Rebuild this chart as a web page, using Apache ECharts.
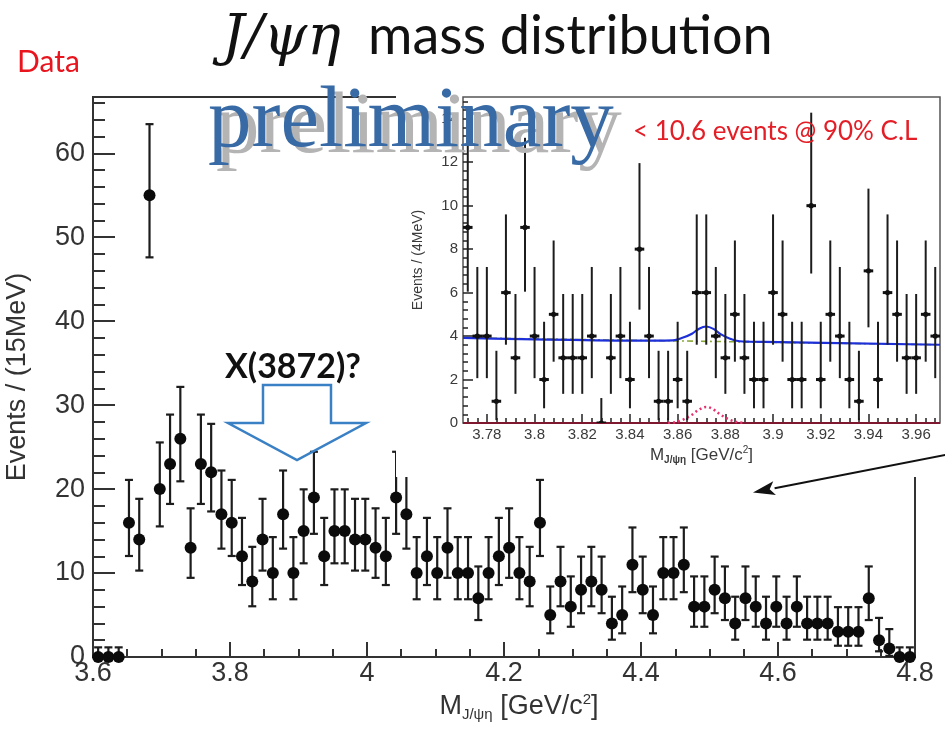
<!DOCTYPE html>
<html>
<head>
<meta charset="utf-8">
<script src="https://cdn.jsdelivr.net/npm/echarts@6/dist/echarts.min.js"></script>
<style>
  html, body { margin: 0; padding: 0; background: #fff; }
  #chart { width: 945px; height: 729px; }
</style>
</head>
<body>
<div id="chart"></div>
<script>
// ---- Full spectrum: J/psi eta invariant mass, 15 MeV bins from 3.6 to 4.8 GeV/c^2 ----
const mainMassMin = 3.6;
const mainBinWidth = 0.015;
const mainCounts = [
  0, 0, 0, 16, 14, 55, 20, 23, 26, 13,
  23, 22, 17, 16, 12, 9, 14, 10, 17, 10,
  15, 19, 12, 15, 15, 14, 14, 13, 12, 19,
  17, 10, 12, 10, 13, 10, 10, 7, 10, 12,
  13, 10, 9, 16, 5, 9, 6, 8, 9, 8,
  4, 5, 11, 8, 5, 10, 10, 11, 6, 6,
  8, 7, 4, 7, 6, 4, 6, 4, 6, 4,
  4, 4, 3, 3, 3, 7, 2, 1, 0, 0
];
const mainYLabels = [0, 10, 20, 30, 40, 50, 60];
const mainYMinorTicks = [0, 2, 4, 6, 8, 10, 12, 14, 16, 18, 20, 22, 24, 26, 28, 30, 32, 34,
  36, 38, 40, 42, 44, 46, 48, 50, 52, 54, 56, 58, 60, 62, 64, 66];

// ---- Zoom around X(3872): 4 MeV bins from 3.77 to 3.97 GeV/c^2 ----
const insetMassMin = 3.77;
const insetBinWidth = 0.004;
const insetCounts = [
  9, 4, 4, 1, 6, 3, 9, 4, 2, 5,
  3, 3, 3, 4, 0, 3, 4, 2, 8, 4,
  1, 1, 2, 1, 6, 6, 4, 3, 5, 3,
  2, 2, 6, 5, 2, 2, 10, 2, 5, 4,
  2, 1, 7, 2, 6, 5, 3, 3, 5, 4
];
const insetXLabels = [3.78, 3.80, 3.82, 3.84, 3.86, 3.88, 3.90, 3.92, 3.94, 3.96];
const insetYLabels = [0, 2, 4, 6, 8, 10, 12, 14];

// fit projections in the zoom window
const fitTotalMass  = [3.770, 3.850, 3.858, 3.862, 3.866, 3.869, 3.872, 3.875, 3.878, 3.882, 3.886, 3.890, 3.970];
const fitTotalValue = [3.92, 3.79, 3.80, 3.92, 4.11, 4.34, 4.44, 4.33, 4.09, 3.88, 3.76, 3.74, 3.60];
const fitBkgMass  = [3.770, 3.970];
const fitBkgValue = [3.92, 3.60];
const fitSigMass  = [3.856, 3.859, 3.862, 3.866, 3.869, 3.872, 3.875, 3.878, 3.882, 3.885, 3.888];
const fitSigValue = [0.0, 0.04, 0.14, 0.38, 0.62, 0.74, 0.62, 0.38, 0.14, 0.04, 0.0];
const zeroLineMass  = [3.770, 3.970];
const zeroLineValue = [0, 0];

// Poisson (central 68%) interval for an observed count
function poissonInterval(n) {
  if (n === 0) return [0, 1.148];
  return [n - Math.sqrt(n - 0.25), n + 1 + Math.sqrt(n + 0.75)];
}

function tickSteps(start, stop, step) {
  const out = [];
  for (let k = 0; start + k * step <= stop + 1e-9; k++) out.push(+(start + k * step).toFixed(4));
  return out;
}

const mainPoints = mainCounts.map((n, i) => {
  const iv = poissonInterval(n);
  return [+(mainMassMin + (i + 0.5) * mainBinWidth).toFixed(5), n, iv[0], iv[1]];
});
const insetPoints = insetCounts.map((n, i) => {
  const iv = poissonInterval(n);
  return [+(insetMassMin + (i + 0.5) * insetBinWidth).toFixed(5), n, iv[0], iv[1]];
});

const SANS = '"Liberation Sans", Arial, Helvetica, sans-serif';
const AXC = '#333';

function renderMainPoint(params, api) {
  const x = api.value(0);
  const p = api.coord([x, api.value(1)]);
  const lo = api.coord([x, api.value(2)]);
  const hi = api.coord([x, api.value(3)]);
  const cap = 4;
  const st = { stroke: '#1c1c1c', lineWidth: 2.2 };
  return {
    type: 'group',
    children: [
      { type: 'line', shape: { x1: p[0], y1: lo[1], x2: p[0], y2: hi[1] }, style: st },
      { type: 'line', shape: { x1: p[0] - cap, y1: hi[1], x2: p[0] + cap, y2: hi[1] }, style: st },
      { type: 'line', shape: { x1: p[0] - cap, y1: lo[1], x2: p[0] + cap, y2: lo[1] }, style: st },
      { type: 'circle', shape: { cx: p[0], cy: p[1], r: 6 }, style: { fill: '#0b0b0b' } }
    ]
  };
}

function renderInsetPoint(params, api) {
  const x = api.value(0);
  const y = api.value(1);
  const p = api.coord([x, y]);
  const left = api.coord([x - insetBinWidth / 2, y]);
  const right = api.coord([x + insetBinWidth / 2, y]);
  const lo = api.coord([x, api.value(2)]);
  const hi = api.coord([x, api.value(3)]);
  const st = { stroke: '#1c1c1c', lineWidth: 2 };
  return {
    type: 'group',
    children: [
      { type: 'line', shape: { x1: p[0], y1: lo[1], x2: p[0], y2: hi[1] }, style: st },
      { type: 'line', shape: { x1: left[0], y1: p[1], x2: right[0], y2: p[1] }, style: { stroke: '#111', lineWidth: 3 } },
      { type: 'circle', shape: { cx: p[0], cy: p[1], r: 2.6 }, style: { fill: '#111' } }
    ]
  };
}

const chart = echarts.init(document.getElementById('chart'), null, { renderer: 'canvas' });

const option = {
  animation: false,
  backgroundColor: '#ffffff',
  grid: [
    { left: 93, top: 97, width: 822, height: 560, show: true, borderColor: '#333', borderWidth: 2,
      backgroundColor: 'rgba(0,0,0,0)', containLabel: false, outerBoundsMode: 'none', z: 0 },
    { left: 463, top: 97, width: 477, height: 326, show: true, borderColor: '#555', borderWidth: 1.5,
      backgroundColor: '#ffffff', containLabel: false, outerBoundsMode: 'none', z: 6 }
  ],
  xAxis: [
    {
      gridIndex: 0, type: 'value', position: 'bottom', min: 3.6, max: 4.8, interval: 0.2,
      axisLine: { show: true, onZero: false, lineStyle: { color: AXC, width: 2 } },
      axisTick: { show: true, inside: true, length: 15, lineStyle: { color: AXC, width: 2 } },
      minorTick: { show: true, splitNumber: 4, length: 8, lineStyle: { color: AXC, width: 2 } },
      splitLine: { show: false }, minorSplitLine: { show: false },
      axisLabel: { color: AXC, fontSize: 27, fontFamily: SANS, margin: 3 },
      name: '{m|M}{s|J/ψη} {m|[GeV/c}{p|2}{m|]}',
      nameLocation: 'middle', nameGap: 20,
      nameTextStyle: {
        color: AXC, fontSize: 27, fontFamily: SANS, lineHeight: 30, padding: [0, 0, 0, 30],
        rich: {
          m: { fontSize: 27, fontFamily: SANS, color: AXC, lineHeight: 30 },
          s: { fontSize: 15, fontFamily: SANS, color: AXC, lineHeight: 12, verticalAlign: 'bottom' },
          p: { fontSize: 15, fontFamily: SANS, color: AXC, lineHeight: 15, verticalAlign: 'top' }
        }
      },
      z: 1
    },
    {
      gridIndex: 1, type: 'value', position: 'bottom', min: 3.77, max: 3.97,
      axisLine: { show: false, onZero: false },
      axisTick: { show: true, inside: true, length: 9, customValues: insetXLabels, lineStyle: { color: '#222', width: 1.5 } },
      splitLine: { show: false },
      axisLabel: {
        customValues: insetXLabels, color: '#3a3a3a', fontSize: 15, fontFamily: SANS, margin: 4,
        formatter: v => String(+(+v).toFixed(2))
      },
      name: '{m|M}{s|J/ψη} {m|[GeV/c}{p|2}{m|]}',
      nameLocation: 'middle', nameGap: 22,
      nameTextStyle: {
        color: '#3a3a3a', fontSize: 17, fontFamily: SANS, lineHeight: 20,
        rich: {
          m: { fontSize: 17, fontFamily: SANS, color: '#3a3a3a', lineHeight: 20 },
          s: { fontSize: 10, fontFamily: SANS, color: '#3a3a3a', lineHeight: 8, verticalAlign: 'bottom', fontWeight: 'bold' },
          p: { fontSize: 10, fontFamily: SANS, color: '#3a3a3a', lineHeight: 10, verticalAlign: 'top' }
        }
      },
      z: 7
    },
    {
      gridIndex: 1, type: 'value', position: 'bottom', min: 3.77, max: 3.97,
      axisLine: { show: false, onZero: false },
      axisTick: { show: true, inside: true, length: 5, customValues: tickSteps(3.772, 3.968, insetBinWidth), lineStyle: { color: '#222', width: 1.5 } },
      axisLabel: { show: false }, splitLine: { show: false },
      z: 7
    }
  ],
  yAxis: [
    {
      gridIndex: 0, type: 'value', position: 'left', min: 0, max: 66.7,
      axisLine: { show: true, onZero: false, lineStyle: { color: AXC, width: 2 } },
      axisTick: { show: true, inside: true, length: 22, customValues: mainYLabels, lineStyle: { color: AXC, width: 2 } },
      splitLine: { show: false },
      axisLabel: { customValues: mainYLabels, color: AXC, fontSize: 27, fontFamily: SANS, margin: 8 },
      name: 'Events / (15MeV)', nameLocation: 'middle', nameGap: 62,
      nameTextStyle: { color: AXC, fontSize: 27, fontFamily: SANS },
      z: 1
    },
    {
      gridIndex: 0, type: 'value', position: 'left', min: 0, max: 66.7,
      axisLine: { show: false, onZero: false },
      axisTick: { show: true, inside: true, length: 12, customValues: mainYMinorTicks, lineStyle: { color: AXC, width: 2 } },
      axisLabel: { show: false }, splitLine: { show: false },
      z: 1
    },
    {
      gridIndex: 1, type: 'value', position: 'left', min: 0, max: 15,
      axisLine: { show: false, onZero: false },
      axisTick: { show: true, inside: true, length: 10, customValues: insetYLabels, lineStyle: { color: '#222', width: 1.5 } },
      splitLine: { show: false },
      axisLabel: { customValues: insetYLabels, color: '#3a3a3a', fontSize: 15, fontFamily: SANS, margin: 5 },
      name: 'Events / (4MeV)', nameLocation: 'middle', nameGap: 38,
      nameTextStyle: { color: '#3a3a3a', fontSize: 14, fontFamily: SANS },
      z: 7
    },
    {
      gridIndex: 1, type: 'value', position: 'left', min: 0, max: 15,
      axisLine: { show: false, onZero: false },
      axisTick: { show: true, inside: true, length: 5, customValues: tickSteps(0, 15, 0.4), lineStyle: { color: '#222', width: 1.5 } },
      axisLabel: { show: false }, splitLine: { show: false },
      z: 7
    }
  ],
  series: [
    {
      name: 'Data', type: 'custom', xAxisIndex: 0, yAxisIndex: 0,
      data: mainPoints, encode: { x: 0, y: 1 }, renderItem: renderMainPoint, clip: false, z: 2
    },
    {
      name: 'Zero', type: 'line', xAxisIndex: 1, yAxisIndex: 2, z: 8, symbol: 'none',
      data: zeroLineMass.map((m, i) => [m, zeroLineValue[i]]),
      lineStyle: { color: '#7d1830', width: 2.2 }
    },
    {
      name: 'Background', type: 'line', xAxisIndex: 1, yAxisIndex: 2, z: 8, symbol: 'none',
      data: fitBkgMass.map((m, i) => [m, fitBkgValue[i]]),
      lineStyle: { color: '#8aa83a', width: 1.6, type: [6, 3, 2, 3] }
    },
    {
      name: 'Signal', type: 'line', xAxisIndex: 1, yAxisIndex: 2, z: 9, symbol: 'none', smooth: 0.35,
      data: fitSigMass.map((m, i) => [m, fitSigValue[i]]),
      lineStyle: { color: '#e5326e', width: 2.5, type: [2, 3] }
    },
    {
      name: 'Fit', type: 'line', xAxisIndex: 1, yAxisIndex: 2, z: 9, symbol: 'none', smooth: 0.35,
      data: fitTotalMass.map((m, i) => [m, fitTotalValue[i]]),
      lineStyle: { color: '#1d2fd8', width: 2.2 }
    },
    {
      name: 'Zoom data', type: 'custom', xAxisIndex: 1, yAxisIndex: 2,
      data: insetPoints, encode: { x: 0, y: 1 }, renderItem: renderInsetPoint, clip: true, z: 10
    }
  ]
};

chart.setOption(option);

// annotations placed from data coordinates of the full-spectrum panel
const toPx = (m, v) => chart.convertToPixel({ gridIndex: 0 }, [m, v]);
const tip = toPx(4.5635, 19.6);
const tail = toPx(4.848, 24.12);
const dx = tip[0] - tail[0], dy = tip[1] - tail[1];
const len = Math.hypot(dx, dy), ux = dx / len, uy = dy / len;
const headLen = 22, headHalf = 7;
const hb = [tip[0] - ux * headLen, tip[1] - uy * headLen];

const xTip = toPx(3.8978, 23.45);
const hollowArrow = [
  [xTip[0] - 34, xTip[1] - 75], [xTip[0] + 34, xTip[1] - 75], [xTip[0] + 34, xTip[1] - 37],
  [xTip[0] + 69, xTip[1] - 37], [xTip[0], xTip[1]], [xTip[0] - 69, xTip[1] - 37],
  [xTip[0] - 34, xTip[1] - 37]
];

chart.setOption({
  graphic: [
    { type: 'rect', z: 5, silent: true, shape: { x: 396, y: 84, width: 549, height: 393 }, style: { fill: '#ffffff' } },
    { type: 'text', z: 30, x: 222, y: 39, style: { text: 'J/ψη', fontSize: 56, fontStyle: 'italic', fontFamily: '"DejaVu Serif", serif', fill: '#111', align: 'left', verticalAlign: 'middle' } },
    { type: 'text', z: 30, x: 368, y: 37, style: { text: 'mass distribution', fontSize: 54, fontFamily: 'Lato, "Open Sans", sans-serif', fill: '#111', align: 'left', verticalAlign: 'middle' } },
    { type: 'text', z: 30, x: 17, y: 62, style: { text: 'Data', fontSize: 30, fontFamily: 'Lato, "Open Sans", sans-serif', fill: '#e8141e', align: 'left', verticalAlign: 'middle' } },
    { type: 'text', z: 30, x: 216, y: 129, style: { text: 'preliminary', fontSize: 87, fontFamily: '"Liberation Serif", "Times New Roman", serif', fill: '#b4b4b4', align: 'left', verticalAlign: 'middle' } },
    { type: 'text', z: 31, x: 208, y: 123, style: { text: 'preliminary', fontSize: 87, fontFamily: '"Liberation Serif", "Times New Roman", serif', fill: '#386aa6', align: 'left', verticalAlign: 'middle' } },
    { type: 'text', z: 30, x: 633, y: 132, style: { text: '< 10.6 events @ 90% C.L', fontSize: 26, fontFamily: 'Lato, "Open Sans", sans-serif', fill: '#e41e26', align: 'left', verticalAlign: 'middle' } },
    { type: 'text', z: 30, x: xTip[0] - 4, y: xTip[1] - 93, style: { text: 'X(3872)?', fontSize: 34, fontWeight: 'bold', fontFamily: 'Lato, "Open Sans", sans-serif', fill: '#111', align: 'center', verticalAlign: 'middle' } },
    { type: 'polygon', z: 30, shape: { points: hollowArrow }, style: { fill: 'rgba(0,0,0,0)', stroke: '#3a80c4', lineWidth: 2.5, lineJoin: 'miter' } },
    { type: 'line', z: 30, shape: { x1: tail[0], y1: tail[1], x2: hb[0], y2: hb[1] }, style: { stroke: '#111', lineWidth: 2 } },
    { type: 'polygon', z: 30, shape: { points: [
        [tip[0], tip[1]],
        [hb[0] - uy * headHalf, hb[1] + ux * headHalf],
        [hb[0] + ux * 5, hb[1] + uy * 5],
        [hb[0] + uy * headHalf, hb[1] - ux * headHalf]
      ] }, style: { fill: '#111' } }
  ]
});
</script>
</body>
</html>
